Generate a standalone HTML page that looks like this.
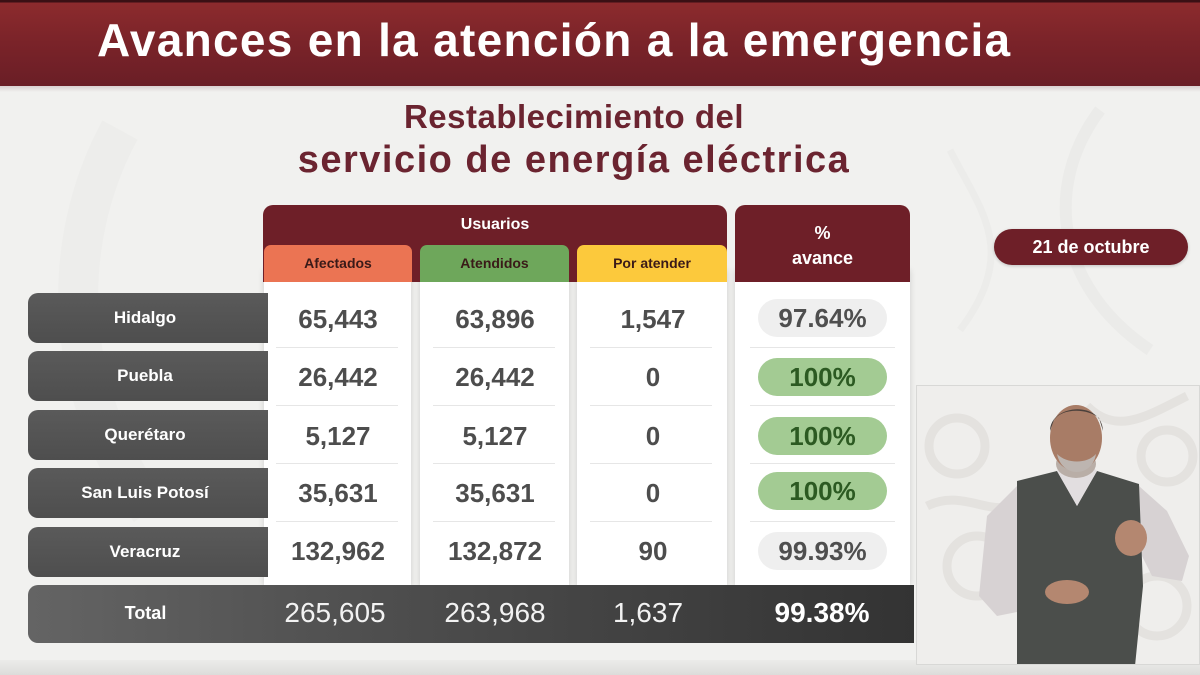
<!DOCTYPE html>
<html><head><meta charset="utf-8">
<style>
*{margin:0;padding:0;box-sizing:border-box}
body{width:1200px;height:675px;overflow:hidden;background:#f1f1ef;font-family:"Liberation Sans",sans-serif;position:relative}
.abs{position:absolute}
#hdr{left:0;top:0;width:1200px;height:86px;background:linear-gradient(#3a1014 0,#3a1014 2px,#8c2b2d 3px,#7a2329 50%,#6a1e26 100%)}
#hdr .t{left:97px;top:17px;font-size:46px;line-height:46px;letter-spacing:1.3px;font-weight:bold;color:#fff;white-space:nowrap}
#band{left:0;top:86px;width:1200px;height:6px;background:linear-gradient(#d9d0d0,#f1f1ef)}
.sub{color:#6b2430;font-weight:bold;white-space:nowrap;text-align:center;width:1200px;left:-26px}
.col{background:#fff;box-shadow:0 0 6px rgba(0,0,0,0.15)}
.hd{background:#6e1f28;border-radius:10px 10px 0 0}
.sh{border-radius:7px 7px 0 0;font-size:14px;font-weight:bold;color:#3a1a18;text-align:center;line-height:36px}
.lbl{left:28px;width:240px;height:50px;background:linear-gradient(#5a5a5a,#4e4e4e);border-radius:10px 0 0 10px;color:#fff;font-weight:bold;font-size:17px;text-align:center;line-height:50px;padding-right:6px}
.num{font-size:26px;font-weight:bold;color:#4d4d4d;text-align:center;width:150px;line-height:30px}
.sep{height:1px;background:#e6e6e6}
.pill{left:758px;width:129px;height:38px;border-radius:19px;text-align:center;line-height:38px;font-size:26px;font-weight:bold}
.g{background:#a3cb93;color:#2c5a22}
.w{background:#efefef;color:#4f4f4f}
.tn{font-size:28px;color:#f2f2f2;text-align:center;width:150px;line-height:30px}
</style></head><body>
<!-- faint background ornament -->
<svg class="abs" style="left:0;top:90px" width="1200" height="585">
<path d="M120 40 C 60 150, 60 300, 150 420" stroke="#ededeb" stroke-width="40" fill="none"/>
<path d="M1100 20 C 1040 100, 1060 200, 1150 260" stroke="#ebebe9" stroke-width="12" fill="none"/>
<path d="M950 60 C 980 120, 1020 160, 960 240" stroke="#ececea" stroke-width="7" fill="none"/>
</svg>
<div id="hdr" class="abs"><div class="t abs">Avances en la atención a la emergencia</div></div>
<div id="band" class="abs"></div>
<div class="abs sub" style="top:98px;font-size:33px;letter-spacing:0.5px">Restablecimiento del</div>
<div class="abs sub" style="top:139px;font-size:38px;letter-spacing:1.5px">servicio de energía eléctrica</div>

<!-- column bodies -->
<div class="abs col" style="left:264px;top:270px;width:147px;height:316px"></div>
<div class="abs col" style="left:420px;top:270px;width:149px;height:316px"></div>
<div class="abs col" style="left:577px;top:270px;width:150px;height:316px"></div>
<div class="abs col" style="left:735px;top:270px;width:175px;height:316px"></div>

<!-- header -->
<div class="abs hd" style="left:263px;top:205px;width:464px;height:77px"></div>
<div class="abs" style="left:263px;top:216px;width:464px;text-align:center;color:#fff;font-weight:bold;font-size:16px">Usuarios</div>
<div class="abs sh" style="left:264px;top:245px;width:148px;height:37px;background:#eb7453">Afectados</div>
<div class="abs sh" style="left:420px;top:245px;width:149px;height:37px;background:#6ea75b">Atendidos</div>
<div class="abs sh" style="left:577px;top:245px;width:150px;height:37px;background:#fcc93c">Por atender</div>
<div class="abs hd" style="left:735px;top:205px;width:175px;height:77px;color:#fff;font-weight:bold;font-size:18px;text-align:center;line-height:25px;padding-top:16px">%<br>avance</div>

<!-- date pill -->
<div class="abs" style="left:994px;top:229px;width:194px;height:36px;border-radius:18px;background:#6e1f28;color:#fff;font-weight:bold;font-size:18px;text-align:center;line-height:36px;box-shadow:0 1px 3px rgba(0,0,0,0.2)">21 de octubre</div>

<!-- separators -->
<div class="abs sep" style="left:276px;top:347px;width:122px"></div>
<div class="abs sep" style="left:276px;top:405px;width:122px"></div>
<div class="abs sep" style="left:276px;top:463px;width:122px"></div>
<div class="abs sep" style="left:276px;top:521px;width:122px"></div>
<div class="abs sep" style="left:433px;top:347px;width:122px"></div>
<div class="abs sep" style="left:433px;top:405px;width:122px"></div>
<div class="abs sep" style="left:433px;top:463px;width:122px"></div>
<div class="abs sep" style="left:433px;top:521px;width:122px"></div>
<div class="abs sep" style="left:590px;top:347px;width:122px"></div>
<div class="abs sep" style="left:590px;top:405px;width:122px"></div>
<div class="abs sep" style="left:590px;top:463px;width:122px"></div>
<div class="abs sep" style="left:590px;top:521px;width:122px"></div>
<div class="abs sep" style="left:750px;top:347px;width:145px"></div>
<div class="abs sep" style="left:750px;top:405px;width:145px"></div>
<div class="abs sep" style="left:750px;top:463px;width:145px"></div>
<div class="abs sep" style="left:750px;top:521px;width:145px"></div>

<!-- row labels -->
<div class="abs lbl" style="top:293px">Hidalgo</div>
<div class="abs lbl" style="top:351px">Puebla</div>
<div class="abs lbl" style="top:410px">Querétaro</div>
<div class="abs lbl" style="top:468px">San Luis Potosí</div>
<div class="abs lbl" style="top:527px">Veracruz</div>

<!-- numbers -->
<div class="abs num" style="left:263px;top:304px">65,443</div>
<div class="abs num" style="left:420px;top:304px">63,896</div>
<div class="abs num" style="left:578px;top:304px">1,547</div>
<div class="abs num" style="left:263px;top:362px">26,442</div>
<div class="abs num" style="left:420px;top:362px">26,442</div>
<div class="abs num" style="left:578px;top:362px">0</div>
<div class="abs num" style="left:263px;top:421px">5,127</div>
<div class="abs num" style="left:420px;top:421px">5,127</div>
<div class="abs num" style="left:578px;top:421px">0</div>
<div class="abs num" style="left:263px;top:478px">35,631</div>
<div class="abs num" style="left:420px;top:478px">35,631</div>
<div class="abs num" style="left:578px;top:478px">0</div>
<div class="abs num" style="left:263px;top:536px">132,962</div>
<div class="abs num" style="left:420px;top:536px">132,872</div>
<div class="abs num" style="left:578px;top:536px">90</div>

<!-- pills -->
<div class="abs pill w" style="top:299px">97.64%</div>
<div class="abs pill g" style="top:358px">100%</div>
<div class="abs pill g" style="top:417px">100%</div>
<div class="abs pill g" style="top:472px">100%</div>
<div class="abs pill w" style="top:532px">99.93%</div>

<!-- total -->
<div class="abs" style="left:28px;top:585px;width:886px;height:58px;border-radius:10px 0 0 10px;background:linear-gradient(90deg,#646464 0%,#4e4e4e 40%,#333 100%)"></div>
<div class="abs" style="left:28px;top:603px;width:235px;text-align:center;color:#fff;font-weight:bold;font-size:18px">Total</div>
<div class="abs tn" style="left:260px;top:598px">265,605</div>
<div class="abs tn" style="left:420px;top:598px">263,968</div>
<div class="abs tn" style="left:573px;top:598px">1,637</div>
<div class="abs tn" style="left:747px;top:598px;font-weight:bold;color:#fff">99.38%</div>

<!-- bottom strip -->
<div class="abs" style="left:0;top:660px;width:1200px;height:15px;background:linear-gradient(#ececea,#dcdcda)"></div>

<!-- video inset -->
<div class="abs" style="left:916px;top:385px;width:284px;height:280px;background:#efeeec;border:1px solid #d8d8d6;overflow:hidden">
<svg width="284" height="280">
<g stroke="#e4e2df" stroke-width="9" fill="none">
<circle cx="40" cy="60" r="28"/><circle cx="60" cy="180" r="30"/><circle cx="250" cy="70" r="26"/><circle cx="240" cy="220" r="30"/>
<path d="M10 120 C 50 100, 80 140, 110 110"/><path d="M170 20 C 200 50, 230 30, 270 10"/>
</g>
<!-- shirt arms -->
<path d="M100 100 L70 130 L62 210 L80 230 L120 222 L125 140 Z" fill="#d7d2d3"/>
<path d="M222 100 L250 125 L272 170 L265 195 L235 190 L215 150 Z" fill="#d7d2d3"/>
<!-- vest -->
<path d="M100 95 L140 85 L160 120 L180 85 L222 98 L226 200 L218 280 L100 280 L100 200 Z" fill="#4b4e4b"/>
<!-- collar -->
<path d="M140 85 L160 120 L180 85 L172 78 L148 78 Z" fill="#e2dee0"/>
<!-- neck/beard -->
<ellipse cx="159" cy="78" rx="20" ry="14" fill="#b9aea7"/>
<!-- head -->
<ellipse cx="159" cy="52" rx="26" ry="33" fill="#a87c66"/>
<path d="M133 45 C 133 18, 185 14, 186 45 L 182 32 C 170 22, 145 22, 137 34 Z" fill="#4a403b"/>
<path d="M140 68 C 145 92, 175 92, 179 68 C 170 78, 150 78, 140 68 Z" fill="#bdb5b0"/>
<!-- hands -->
<ellipse cx="214" cy="152" rx="16" ry="18" fill="#b48770"/>
<ellipse cx="150" cy="206" rx="22" ry="12" fill="#b48770"/>
</svg>
</div>
</body></html>
